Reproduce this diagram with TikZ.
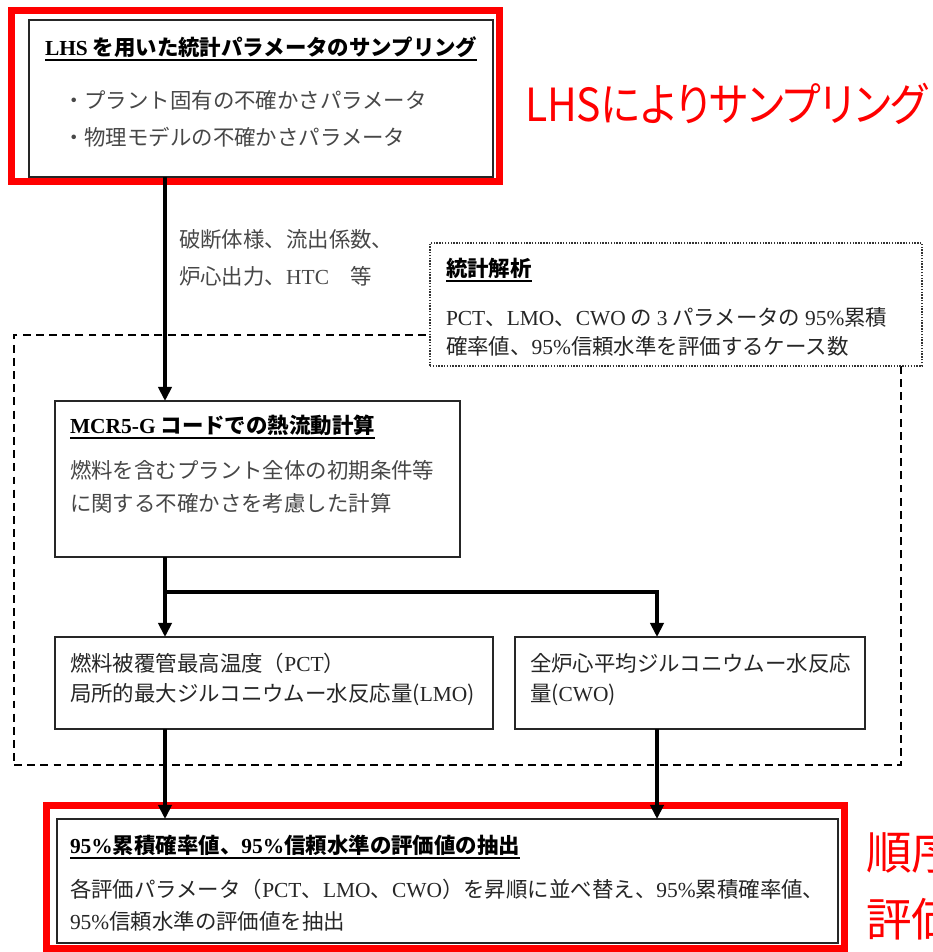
\documentclass[tikz,border=0pt]{standalone}
\usepackage{fontspec}
\setmainfont{Liberation Serif}
\newfontfamily\jp{Noto Sans CJK JP}
\newfontfamily\jpp{Noto Sans CJK JP}[RawFeature=+palt]
\newcommand\lt[1]{{\rmfamily #1}}
\usetikzlibrary{arrows.meta,fit}
\begin{document}
\begin{tikzpicture}[x=0.02cm,y=-0.02cm,
  every node/.style={inner sep=0pt, outer sep=0pt},
  txt/.style={anchor=west, font=\fontsize{12.2}{15}\selectfont\jp, text=black!72},
  ttl/.style={anchor=west, font=\fontsize{12.2}{15}\selectfont\jp\bfseries, text=black},
  box/.style={draw=black!85, line width=0.75pt, fill=white},
  redframe/.style={draw=red, line width=4pt},
  arr/.style={line width=2pt, -{Triangle[length=8pt,width=7.5pt]}},
  ln/.style={line width=2pt},
  uline/.style={line width=0.75pt},
  redtxt/.style={text=red, font=\fontsize{26}{30}\selectfont\jpp, anchor=west}]
\useasboundingbox (0,0) rectangle (932,952);
\clip (0,0) rectangle (932,952);
% grouping frames
\node[fit={(14,335) (901,765)}, draw=black, line width=0.9pt, dash pattern=on 4.5pt off 3pt] (region) {};
\node[fit={(430,243) (922,366)}, draw=black!80, fill=white, line width=0.6pt, dash pattern=on 0.8pt off 0.8pt] (stat) {};
% red highlight frames
\node[redframe, fit={(11.5,10.5) (499.5,181.5)}] (red1) {};
\node[redframe, fit={(46.5,805.5) (844.5,948.5)}] (red2) {};
% boxes
\node[box, fit={(29,20) (493,177)}] (lhs) {};
\node[box, fit={(55,401) (460,557)}] (mcr) {};
\node[box, fit={(55,637) (493,729)}] (pct) {};
\node[box, fit={(515,637) (865,729)}] (cwo) {};
\node[box, fit={(57,819) (838,943)}] (ext) {};
% texts: top box
\node[ttl] (t1) at (45,47) {\lt{LHS} を用いた統計パラメータのサンプリング};
\draw[uline] ([yshift=-1.5pt]t1.south west) -- ([yshift=-1.5pt]t1.south east);
\node[txt] (b1) at (63,100) {・プラント固有の不確かさパラメータ};
\node[txt] (b2) at (63,137) {・物理モデルの不確かさパラメータ};
% arrow label
\node[txt] (l1) at (179,239) {破断体様、流出係数、};
\node[txt] (l2) at (179,276) {炉心出力、\lt{HTC}　等};
% statistics box
\node[ttl] (t2) at (446,268) {統計解析};
\draw[uline] ([yshift=-1.5pt]t2.south west) -- ([yshift=-1.5pt]t2.south east);
\node[txt, text=black!85] (s1) at (446,317) {\lt{PCT}、\lt{LMO}、\lt{CWO} の \lt{3} パラメータの \lt{95\%}累積};
\node[txt, text=black!85] (s2) at (446,346) {確率値、\lt{95\%}信頼水準を評価するケース数};
% MCR box
\node[ttl] (t3) at (70,425) {\lt{MCR5-G} コードでの熱流動計算};
\draw[uline] ([yshift=-1.5pt]t3.south west) -- ([yshift=-1.5pt]t3.south east);
\node[txt] (m1) at (70,470) {燃料を含むプラント全体の初期条件等};
\node[txt] (m2) at (70,503) {に関する不確かさを考慮した計算};
% PCT / CWO boxes
\node[txt, text=black!85] (p1) at (70,663) {燃料被覆管最高温度（\lt{PCT}）};
\node[txt, text=black!85] (p2) at (70,695) {局所的最大ジルコニウムー水反応量(\lt{LMO})};
\node[txt, text=black!85] (w1) at (530,663) {全炉心平均ジルコニウムー水反応};
\node[txt, text=black!85] (w2) at (530,695) {量(\lt{CWO})};
% extraction box
\node[ttl] (t4) at (70,845) {\lt{95\%}累積確率値、\lt{95\%}信頼水準の評価値の抽出};
\draw[uline] ([yshift=-1.5pt]t4.south west) -- ([yshift=-1.5pt]t4.south east);
\node[txt, text=black!85] (e1) at (70,889) {各評価パラメータ（\lt{PCT}、\lt{LMO}、\lt{CWO}）を昇順に並べ替え、\lt{95\%}累積確率値、};
\node[txt, text=black!85] (e2) at (70,921) {\lt{95\%}信頼水準の評価値を抽出};
% red annotations
\node[redtxt] (r1) at (525,104) {\scalebox{0.895}[1]{LHSによりサンプリング}};
\node[redtxt] (r2) at (866,852) {順序};
\node[redtxt] (r3) at (866,919) {評価};
% connectors
\coordinate (c1) at (165,0);
\coordinate (c2) at (657,0);
\coordinate (j1) at (165,592);
\coordinate (j2) at (657,592);
\draw[arr] (lhs.south -| c1) -- (mcr.north -| c1);
\draw[ln] (mcr.south -| c1) -- (j1);
\draw[arr] (j1) -- (pct.north -| c1);
\draw[arr, line join=miter] (j1) -- (j2) -- (cwo.north -| c2);
\draw[arr] (pct.south -| c1) -- (ext.north -| c1);
\draw[arr] (cwo.south -| c2) -- (ext.north -| c2);
\end{tikzpicture}
\end{document}
